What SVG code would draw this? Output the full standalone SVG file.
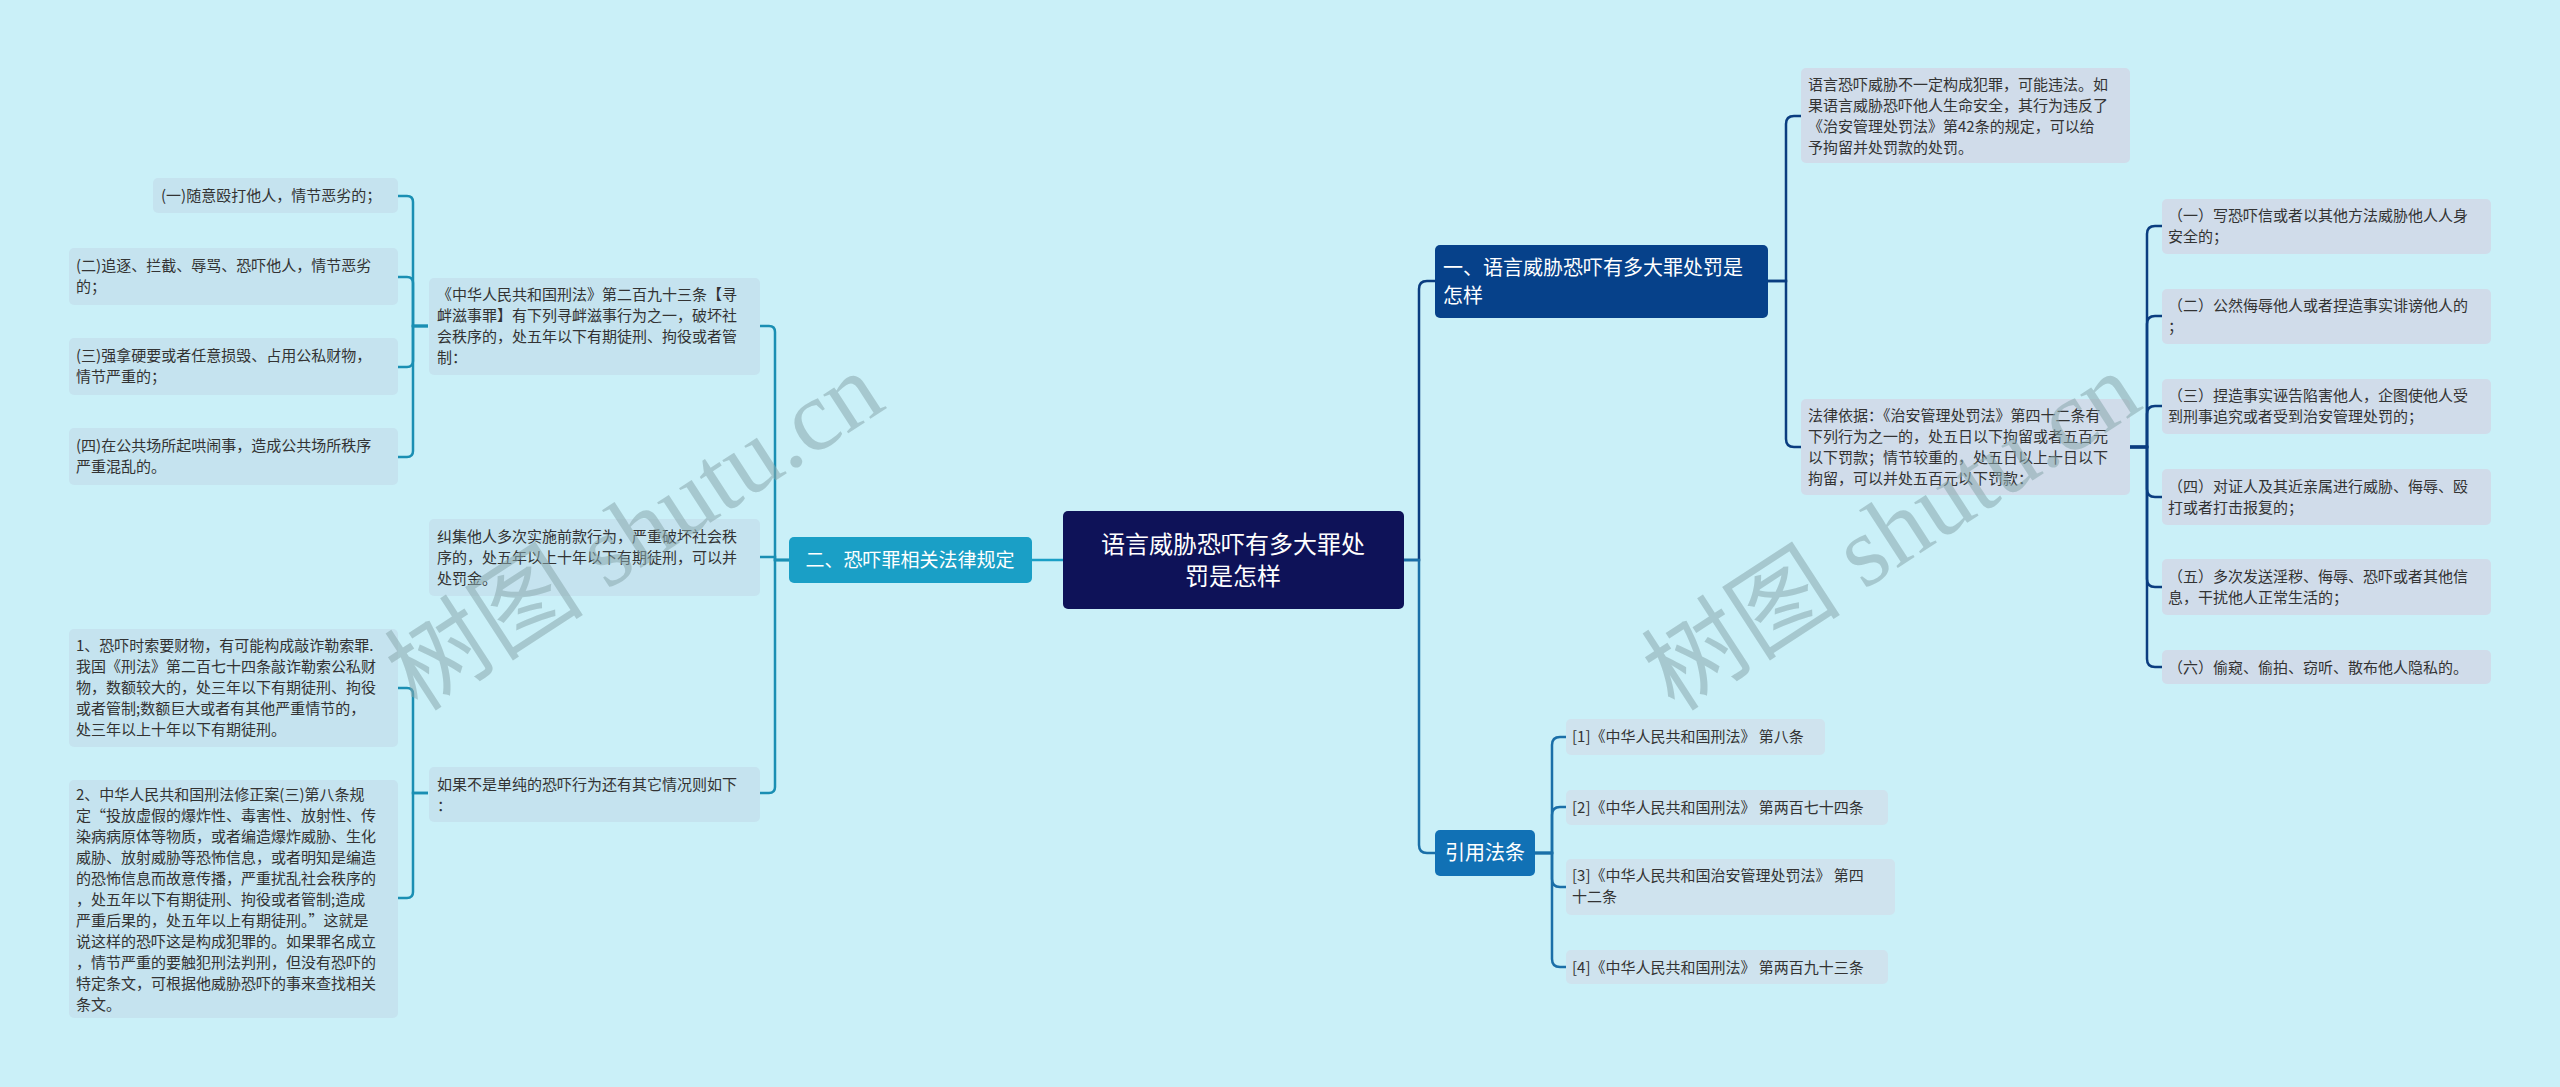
<svg xmlns="http://www.w3.org/2000/svg" width="2560" height="1087" viewBox="0 0 2560 1087">
<style>
text{font-family:"Noto Sans CJK SC","Noto Sans",sans-serif;font-size:15px;fill:#333}
.w{fill:#fff}
.ln{fill:#c5e3ef}
.rn{fill:#d0dcea}
.cn{fill:#cfe3ee}
.c path{fill:none;stroke-width:2.5}
.wm{font-family:"Liberation Serif","Noto Sans CJK SC",serif;font-size:100px;fill:#8aa9ae;opacity:0.55}
</style>
<rect width="2560" height="1087" fill="#caf0f8"/>
<g id="connectors" class="c">
<path d="M1063,560 H1032" stroke="#1a9fc6"/>
<g stroke="#1a8fb3">
<path d="M789,560 H775 V332 Q775,326 769,326 H760"/>
<path d="M789,560 H775 V557 H760"/>
<path d="M789,560 H775 V787 Q775,793 769,793 H760"/>
</g>
<g stroke="#1a8fb3">
<path d="M428,326 H413 V202 Q413,196 407,196 H398"/>
<path d="M428,326 H413 V283 Q413,277 407,277 H398"/>
<path d="M428,326 H413 V361 Q413,367 407,367 H398"/>
<path d="M428,326 H413 V451 Q413,457 407,457 H398"/>
<path d="M428,793 H413 V694 Q413,688 407,688 H398"/>
<path d="M428,793 H413 V892 Q413,898 407,898 H398"/>
</g>
<path d="M1404,560 H1419 V289 Q1419,281 1427,281 H1435" stroke="#0a3d80"/>
<path d="M1404,560 H1419 V845 Q1419,853 1427,853 H1435" stroke="#1a6fa8"/>
<g stroke="#0a3d80">
<path d="M1768,281 H1786 V124 Q1786,116 1794,116 H1801"/>
<path d="M1768,281 H1786 V439 Q1786,447 1794,447 H1801"/>
<path d="M2130,447 H2147 V234 Q2147,226 2155,226 H2162"/>
<path d="M2130,447 H2147 V324 Q2147,316 2155,316 H2162"/>
<path d="M2130,447 H2147 V414 Q2147,406 2155,406 H2162"/>
<path d="M2130,447 H2147 V489 Q2147,497 2155,497 H2162"/>
<path d="M2130,447 H2147 V579 Q2147,587 2155,587 H2162"/>
<path d="M2130,447 H2147 V659 Q2147,667 2155,667 H2162"/>
</g>
<g stroke="#1a6fa8">
<path d="M1535,853 H1552 V745 Q1552,737 1560,737 H1566"/>
<path d="M1535,853 H1552 V815 Q1552,807 1560,807 H1566"/>
<path d="M1535,853 H1552 V879 Q1552,887 1560,887 H1566"/>
<path d="M1535,853 H1552 V959 Q1552,967 1560,967 H1566"/>
</g>
</g>
<g id="root"><rect x="1063" y="511" width="341" height="98" rx="5" fill="#0e1258"/>
<text class="w" x="1233" y="553" font-size="24" text-anchor="middle" style="font-size:24px">语言威胁恐吓有多大罪处</text>
<text class="w" x="1233" y="585" text-anchor="middle" style="font-size:24px">罚是怎样</text></g>
<g id="b2"><rect x="789" y="537" width="243" height="46" rx="5" fill="#1a9fc6"/>
<text class="w" x="910" y="567" text-anchor="middle" style="font-size:19px">二、恐吓罪相关法律规定</text></g>
<g id="A"><rect class="ln" x="429" y="278" width="331" height="97" rx="5"/>
<text x="437" y="300">《中华人民共和国刑法》第二百九十三条【寻</text><text x="437" y="321">衅滋事罪】有下列寻衅滋事行为之一，破坏社</text><text x="437" y="342">会秩序的，处五年以下有期徒刑、拘役或者管</text><text x="437" y="363">制：</text></g>
<g id="B"><rect class="ln" x="429" y="519" width="331" height="77" rx="5"/>
<text x="437" y="542">纠集他人多次实施前款行为，严重破坏社会秩</text><text x="437" y="563">序的，处五年以上十年以下有期徒刑，可以并</text><text x="437" y="584">处罚金。</text></g>
<g id="C"><rect class="ln" x="429" y="767" width="331" height="55" rx="5"/>
<text x="437" y="790">如果不是单纯的恐吓行为还有其它情况则如下</text><text x="437" y="811">：</text></g>
<g id="a1"><rect class="ln" x="153" y="178" width="245" height="35" rx="5"/><text x="161" y="201">(一)随意殴打他人，情节恶劣的；</text></g>
<g id="a2"><rect class="ln" x="69" y="248" width="329" height="57" rx="5"/><text x="76" y="271">(二)追逐、拦截、辱骂、恐吓他人，情节恶劣</text><text x="76" y="292">的；</text></g>
<g id="a3"><rect class="ln" x="69" y="338" width="329" height="57" rx="5"/><text x="76" y="361">(三)强拿硬要或者任意损毁、占用公私财物，</text><text x="76" y="382">情节严重的；</text></g>
<g id="a4"><rect class="ln" x="69" y="428" width="329" height="57" rx="5"/><text x="76" y="451">(四)在公共场所起哄闹事，造成公共场所秩序</text><text x="76" y="472">严重混乱的。</text></g>
<g id="c1"><rect class="ln" x="69" y="629" width="329" height="118" rx="5"/>
<text x="76" y="651">1、恐吓时索要财物，有可能构成敲诈勒索罪.</text><text x="76" y="672">我国《刑法》第二百七十四条敲诈勒索公私财</text><text x="76" y="693">物，数额较大的，处三年以下有期徒刑、拘役</text><text x="76" y="714">或者管制;数额巨大或者有其他严重情节的，</text><text x="76" y="735">处三年以上十年以下有期徒刑。</text></g>
<g id="c2"><rect class="ln" x="69" y="780" width="329" height="238" rx="5"/>
<text x="76" y="800">2、中华人民共和国刑法修正案(三)第八条规</text><text x="76" y="821">定“投放虚假的爆炸性、毒害性、放射性、传</text><text x="76" y="842">染病病原体等物质，或者编造爆炸威胁、生化</text><text x="76" y="863">威胁、放射威胁等恐怖信息，或者明知是编造</text><text x="76" y="884">的恐怖信息而故意传播，严重扰乱社会秩序的</text><text x="76" y="905">，处五年以下有期徒刑、拘役或者管制;造成</text><text x="76" y="926">严重后果的，处五年以上有期徒刑。”这就是</text><text x="76" y="947">说这样的恐吓这是构成犯罪的。如果罪名成立</text><text x="76" y="968">，情节严重的要触犯刑法判刑，但没有恐吓的</text><text x="76" y="989">特定条文，可根据他威胁恐吓的事来查找相关</text><text x="76" y="1010">条文。</text></g>
<g id="b1"><rect x="1435" y="245" width="333" height="73" rx="5" fill="#06418a"/>
<text class="w" x="1443" y="275" style="font-size:20px">一、语言威胁恐吓有多大罪处罚是</text><text class="w" x="1443" y="303" style="font-size:20px">怎样</text></g>
<g id="b3"><rect x="1435" y="830" width="100" height="46" rx="5" fill="#1171b5"/>
<text class="w" x="1485" y="860" text-anchor="middle" style="font-size:20px">引用法条</text></g>
<g id="r1"><rect class="rn" x="1801" y="68" width="329" height="95" rx="5"/>
<text x="1808" y="90">语言恐吓威胁不一定构成犯罪，可能违法。如</text><text x="1808" y="111">果语言威胁恐吓他人生命安全，其行为违反了</text><text x="1808" y="132">《治安管理处罚法》第42条的规定，可以给</text><text x="1808" y="153">予拘留并处罚款的处罚。</text></g>
<g id="r2"><rect class="rn" x="1801" y="399" width="329" height="96" rx="5"/>
<text x="1808" y="421">法律依据：《治安管理处罚法》第四十二条有</text><text x="1808" y="442">下列行为之一的，处五日以下拘留或者五百元</text><text x="1808" y="463">以下罚款；情节较重的，处五日以上十日以下</text><text x="1808" y="484">拘留，可以并处五百元以下罚款：</text></g>
<g id="s1"><rect class="rn" x="2162" y="199" width="329" height="55" rx="5"/><text x="2168" y="221">（一）写恐吓信或者以其他方法威胁他人人身</text><text x="2168" y="242">安全的；</text></g>
<g id="s2"><rect class="rn" x="2162" y="289" width="329" height="55" rx="5"/><text x="2168" y="311">（二）公然侮辱他人或者捏造事实诽谤他人的</text><text x="2168" y="332">；</text></g>
<g id="s3"><rect class="rn" x="2162" y="379" width="329" height="55" rx="5"/><text x="2168" y="401">（三）捏造事实诬告陷害他人，企图使他人受</text><text x="2168" y="422">到刑事追究或者受到治安管理处罚的；</text></g>
<g id="s4"><rect class="rn" x="2162" y="469" width="329" height="56" rx="5"/><text x="2168" y="492">（四）对证人及其近亲属进行威胁、侮辱、殴</text><text x="2168" y="513">打或者打击报复的；</text></g>
<g id="s5"><rect class="rn" x="2162" y="559" width="329" height="56" rx="5"/><text x="2168" y="582">（五）多次发送淫秽、侮辱、恐吓或者其他信</text><text x="2168" y="603">息，干扰他人正常生活的；</text></g>
<g id="s6"><rect class="rn" x="2162" y="650" width="329" height="34" rx="5"/><text x="2168" y="673">（六）偷窥、偷拍、窃听、散布他人隐私的。</text></g>
<g id="t1"><rect class="cn" x="1566" y="719" width="259" height="36" rx="5"/><text x="1572" y="742">[1]《中华人民共和国刑法》 第八条</text></g>
<g id="t2"><rect class="cn" x="1566" y="790" width="322" height="35" rx="5"/><text x="1572" y="813">[2]《中华人民共和国刑法》 第两百七十四条</text></g>
<g id="t3"><rect class="cn" x="1566" y="859" width="329" height="56" rx="5"/><text x="1572" y="881">[3]《中华人民共和国治安管理处罚法》 第四</text><text x="1572" y="902">十二条</text></g>
<g id="t4"><rect class="cn" x="1566" y="950" width="322" height="34" rx="5"/><text x="1572" y="973">[4]《中华人民共和国刑法》 第两百九十三条</text></g>
<text class="wm" transform="translate(653,560) rotate(-33)" text-anchor="middle">树图 shutu.cn</text>
<text class="wm" transform="translate(1910,560) rotate(-33)" text-anchor="middle">树图 shutu.cn</text>
</svg>
